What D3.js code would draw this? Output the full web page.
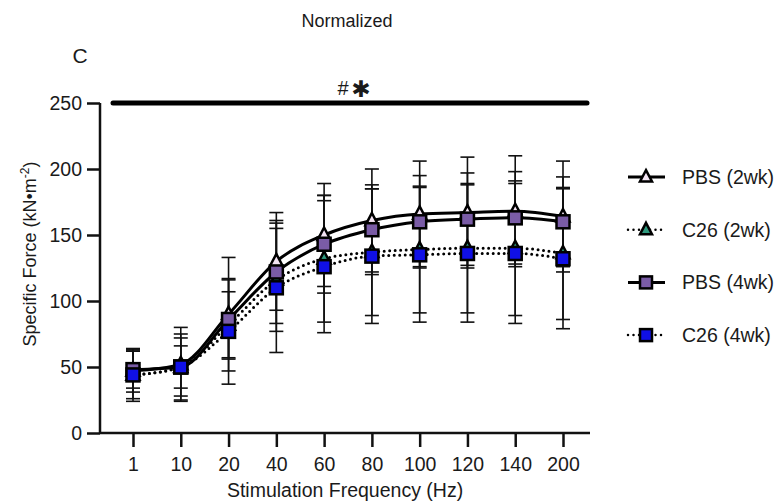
<!DOCTYPE html>
<html>
<head>
<meta charset="utf-8">
<script src="https://cdn.jsdelivr.net/npm/d3@7"></script>
<style>
  body { margin: 0; background: #fff; }
  text { font-family: "Liberation Sans", Arial, sans-serif; fill: #1a1a1a; }
</style>
</head>
<body>
<svg id="chart" width="777" height="502"></svg>
<script>
const freqs = ['1', '10', '20', '40', '60', '80', '100', '120', '140', '200'];

// means and SD
const pbs2Mean = [47, 52, 90, 130, 150, 161, 166, 167, 168, 164];
const pbs2Sd   = [16, 28, 43, 37, 39, 39, 40, 42, 42, 42];
const c262Mean = [44, 50, 82, 116, 132, 137, 139, 140, 140, 136];
const c262Sd   = [18, 16, 25, 39, 48, 48, 48, 49, 51, 50];
const pbs4Mean = [48, 50, 86, 122, 143, 154, 160, 162, 163, 160];
const pbs4Sd   = [14, 22, 30, 39, 37, 34, 35, 35, 35, 34];
const c264Mean = [44, 50, 77, 110, 126, 134, 135, 136, 136, 132];
const c264Sd   = [20, 25, 40, 49, 50, 51, 51, 52, 53, 53];

const yTicks = [0, 50, 100, 150, 200, 250];

const series = [
	{name: 'PBS (2wk)', mean: pbs2Mean, sd: pbs2Sd, shape: 'tri', fill: '#f3e4f3', dotted: false},
	{name: 'C26 (2wk)', mean: c262Mean, sd: c262Sd, shape: 'tri', fill: '#2f9a7e', dotted: true},
	{name: 'PBS (4wk)', mean: pbs4Mean, sd: pbs4Sd, shape: 'sq', fill: '#7a5ca6', dotted: false},
	{name: 'C26 (4wk)', mean: c264Mean, sd: c264Sd, shape: 'sq', fill: '#1010e6', dotted: true}
];

const svg = d3.select('#chart');

const x = d3.scalePoint()
	.domain(freqs)
	.range([133, 563]);

const y = d3.scaleLinear()
	.domain([0, 250])
	.range([433, 103]);

// titles
svg.append('text')
	.attr('x', 347).attr('y', 27)
	.attr('text-anchor', 'middle')
	.style('font-size', '18px')
	.text('Normalized');

svg.append('text')
	.attr('x', 80).attr('y', 63)
	.attr('text-anchor', 'middle')
	.style('font-size', '21px')
	.text('C');

// axes
const yAxis = svg.append('g')
	.attr('transform', 'translate(100,0)')
	.call(d3.axisLeft(y).tickValues(yTicks).tickSize(13).tickPadding(5));

const xAxis = svg.append('g')
	.attr('transform', 'translate(0,433)')
	.call(d3.axisBottom(x).tickSize(14).tickPadding(10));

[yAxis, xAxis].forEach(g => {
	g.selectAll('path, line').attr('stroke', '#111').attr('stroke-width', 2.5);
	g.selectAll('text').style('font-size', '19.5px').attr('fill', '#1a1a1a')
		.style('font-family', '"Liberation Sans", Arial, sans-serif');
});
yAxis.select('.domain').attr('d', `M0,${y(250)}V${y(0)}`);
xAxis.select('.domain').attr('d', 'M100,0H590');

svg.append('text')
	.attr('x', 345).attr('y', 497)
	.attr('text-anchor', 'middle')
	.style('font-size', '19.5px')
	.text('Stimulation Frequency (Hz)');

const yLab = svg.append('text')
	.attr('transform', 'translate(36,254) rotate(-90)')
	.attr('text-anchor', 'middle')
	.style('font-size', '18px');
yLab.append('tspan').text('Specific Force  (kN•m');
yLab.append('tspan').attr('dy', -7).style('font-size', '12px').text('-2');
yLab.append('tspan').attr('dy', 7).text(')');

// significance bar
svg.append('line')
	.attr('x1', 113).attr('x2', 587)
	.attr('y1', y(250)).attr('y2', y(250))
	.attr('stroke', '#000').attr('stroke-width', 5)
	.attr('stroke-linecap', 'round');

svg.append('text')
	.attr('x', 343).attr('y', 95)
	.attr('text-anchor', 'middle')
	.style('font-size', '20px')
	.text('#');
svg.append('text')
	.attr('x', 361).attr('y', 97)
	.attr('text-anchor', 'middle')
	.style('font-size', '23px')
	.style('font-weight', 'bold')
	.style('font-family', '"DejaVu Sans", sans-serif')
	.text('✱');

// error bars
const capW = 7;
series.forEach(s => {
	const g = svg.append('g').attr('class', 'err');
	freqs.forEach((f, i) => {
		const cx = x(f), lo = y(s.mean[i] - s.sd[i]), hi = y(s.mean[i] + s.sd[i]);
		g.append('line').attr('x1', cx).attr('x2', cx).attr('y1', lo).attr('y2', hi);
		g.append('line').attr('x1', cx - capW).attr('x2', cx + capW).attr('y1', lo).attr('y2', lo);
		g.append('line').attr('x1', cx - capW).attr('x2', cx + capW).attr('y1', hi).attr('y2', hi);
	});
	g.selectAll('line').attr('stroke', '#111').attr('stroke-width', 1.6);
});

// lines
const line = d3.line()
	.x((d, i) => x(freqs[i]))
	.y(d => y(d))
	.curve(d3.curveMonotoneX);

series.forEach(s => {
	svg.append('path')
		.attr('d', line(s.mean))
		.attr('fill', 'none')
		.attr('stroke', '#000')
		.attr('stroke-width', 3)
		.attr('stroke-linecap', s.dotted ? 'round' : 'butt')
		.attr('stroke-dasharray', s.dotted ? '0 5.5' : null);
});

// markers
const triPath = r => `M0,${-r * 1.15}L${r},${r * 0.75}L${-r},${r * 0.75}Z`;

function drawMarker(g, s, cx, cy, r) {
	if (s.shape === 'sq') {
		g.append('rect')
			.attr('x', cx - r).attr('y', cy - r)
			.attr('width', 2 * r).attr('height', 2 * r)
			.attr('fill', s.fill).attr('stroke', '#000').attr('stroke-width', 2.5);
	} else {
		g.append('path')
			.attr('d', triPath(r))
			.attr('transform', `translate(${cx},${cy})`)
			.attr('fill', s.fill).attr('stroke', '#000').attr('stroke-width', 2.5)
			.attr('stroke-linejoin', 'miter');
	}
}

series.forEach(s => {
	const g = svg.append('g');
	s.mean.forEach((v, i) => drawMarker(g, s, x(freqs[i]), y(v), 6.5));
});

// legend
const legend = svg.append('g');
series.forEach((s, i) => {
	const ly = 177 + i * 52.7;
	legend.append('line')
		.attr('x1', 628).attr('x2', 665)
		.attr('y1', ly).attr('y2', ly)
		.attr('stroke', '#000').attr('stroke-width', s.dotted ? 2.5 : 3)
		.attr('stroke-linecap', s.dotted ? 'round' : 'butt')
		.attr('stroke-dasharray', s.dotted ? '0 5.5' : null);
	drawMarker(legend, s, 646, ly, 6);
	legend.append('text')
		.attr('x', 682).attr('y', ly + 7)
		.style('font-size', '19.5px')
		.text(s.name);
});
</script>
</body>
</html>
